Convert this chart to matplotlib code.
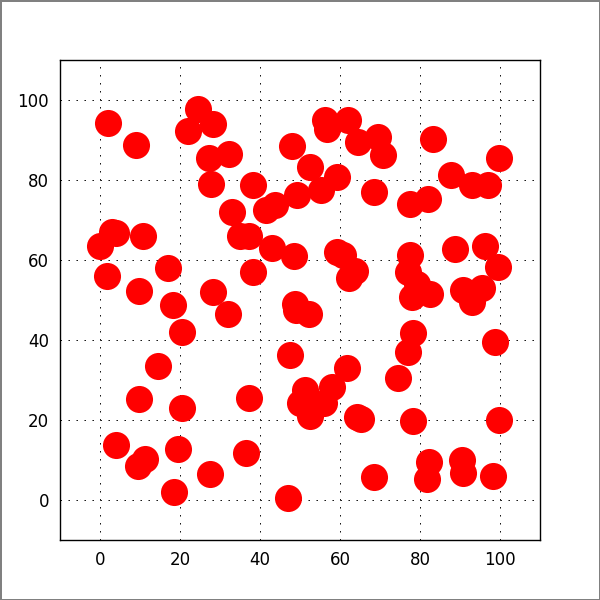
import matplotlib
matplotlib.use("Agg")
import matplotlib.pyplot as plt

# point positions
xs = [2.1, 9.0, 24.6, 22.1, 28.2, 27.3, 32.3, 27.7, 38.2, 47.9,
      52.5, 32.9, 35.0, 37.3, 41.5, 43.8, 49.3, 42.9, 48.5, 2.9,
      4.0, 0.1, 10.7, 1.8, 17.1, 9.8, 18.3, 28.3, 38.2, 32.1,
      20.6, 14.6, 47.5, 9.8, 20.4, 37.3, 4.0, 11.3, 9.6, 19.4,
      27.5, 36.5, 18.6, 46.9, 56.3, 56.8, 62.1, 64.6, 69.6, 70.8,
      59.3, 55.2, 68.5, 83.3, 99.8, 87.8, 92.9, 96.9, 77.5, 82.1,
      59.2, 60.8, 63.8, 62.3, 77.6, 77.1, 79.2, 77.9, 82.5, 88.8,
      96.3, 99.4, 90.8, 93.1, 95.4, 48.8, 49.0, 52.3, 78.3, 77.1,
      74.4, 98.8, 61.7, 57.9, 51.3, 50.0, 52.5, 56.0, 64.2, 65.2,
      78.3, 99.8, 68.5, 82.3, 81.7, 90.4, 90.8, 98.3]
ys = [94.3, 88.8, 97.7, 92.3, 94.0, 85.4, 86.5, 79.0, 78.8, 88.5,
      83.3, 72.1, 66.0, 66.0, 72.5, 73.8, 76.3, 62.9, 61.0, 67.0,
      66.7, 63.5, 66.0, 56.0, 57.9, 52.3, 48.8, 52.1, 57.1, 46.5,
      42.1, 33.6, 36.3, 25.2, 22.9, 25.6, 13.8, 10.2, 8.5, 12.8,
      6.5, 11.8, 2.1, 0.6, 94.9, 92.8, 95.0, 89.6, 90.8, 86.3,
      80.7, 77.5, 77.1, 90.3, 85.4, 81.3, 78.8, 78.8, 74.0, 75.2,
      62.0, 61.3, 57.3, 55.4, 61.3, 57.0, 54.0, 50.8, 51.6, 62.7,
      63.6, 58.3, 52.5, 49.5, 52.9, 49.0, 47.5, 46.6, 41.7, 37.1,
      30.4, 39.6, 32.9, 28.2, 27.5, 24.3, 21.0, 24.3, 20.7, 20.2,
      19.8, 20.0, 5.8, 9.6, 5.3, 10.0, 6.7, 6.0]

ticks = [0, 20, 40, 60, 80, 100]

fig = plt.figure(figsize=(6, 6), dpi=100)
fig.patch.set_edgecolor("gray")
fig.patch.set_linewidth(2)
ax = fig.add_axes([0.1, 0.1, 0.8, 0.8])

ax.scatter(xs, ys, s=380, c="red", linewidths=0, zorder=3)

ax.set_xlim(-10, 110)
ax.set_ylim(-10, 110)
ax.set_xticks(ticks)
ax.set_yticks(ticks)
ax.tick_params(length=0, labelsize=12, pad=8)
# sparse dotted grid like the old default
ax.grid(True, color="black", linestyle=(0, (1.4, 6.6)), linewidth=0.72)
for sp in ax.spines.values():
    sp.set_linewidth(1)

fig.savefig("out.png", dpi=100, edgecolor=fig.get_edgecolor())
